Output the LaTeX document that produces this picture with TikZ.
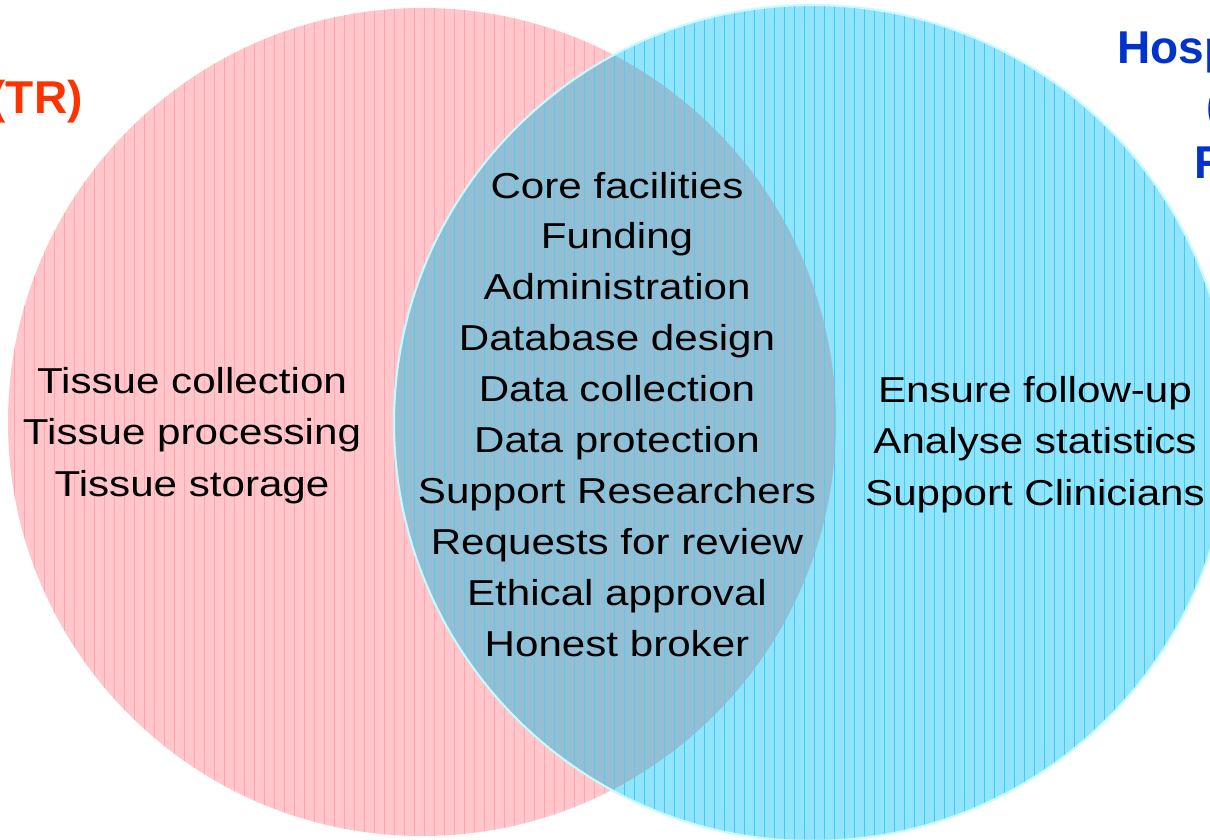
\documentclass[tikz,border=0pt]{standalone}
\usepackage{fontspec}
\setmainfont{Liberation Sans}
\usepackage{graphicx}
\usetikzlibrary{positioning}
\definecolor{trpink}{HTML}{FFC6CB}
\definecolor{trline}{HTML}{FFA6AF}
\definecolor{hrcyan}{HTML}{92E4FB}
\definecolor{hrline}{HTML}{3BCEF8}
\definecolor{mixblue}{HTML}{93BED3}
\definecolor{hredge}{HTML}{C8FAFF}
\definecolor{trtitle}{HTML}{FF3300}
\definecolor{hrtitle}{HTML}{0033CC}

\begin{document}
\begin{tikzpicture}[x=0.02cm, y=-0.02cm,
    item/.style={font=\fontsize{20.5}{24}\selectfont, inner sep=0pt, anchor=base},
    heading/.style={font=\fontsize{26.2}{30}\selectfont\bfseries, inner sep=0pt},
    hatch/.style={line width=0.45pt}]
  \useasboundingbox (0,0) rectangle (1210,839);
  \coordinate (tr) at (422,422);
  \coordinate (hr) at (812,423);
  % left circle
  \fill[trpink] (tr) circle (414);
  \begin{scope}
    \clip (tr) circle (414);
    \foreach \x in {4,14,...,1210} \draw[hatch, trline] (\x,0) -- (\x,839);
  \end{scope}
  % right circle
  \fill[hrcyan] (hr) circle (418);
  \begin{scope}
    \clip (hr) circle (418);
    \foreach \x in {4,14,...,1210} \draw[hatch, hrline] (\x,0) -- (\x,839);
    % overlap
    \clip (tr) circle (414);
    \fill[mixblue] (hr) circle (418);
    \foreach \x in {4,14,...,1210} \draw[hatch, hrline!60!mixblue] (\x,0) -- (\x,839);
  \end{scope}
  \draw[hredge, line width=1.2pt] (hr) circle (418);
  % texts
  \foreach \t [count=\i] in {Core facilities, Funding, Administration, Database design,
      Data collection, Data protection, Support Researchers, Requests for review,
      Ethical approval, Honest broker}
    \node[item] (mid\i) at (617,{147.1+50.9*\i}) {\scalebox{1.17}[1]{\t}};
  \foreach \t [count=\i] in {Tissue collection, Tissue processing, Tissue storage}
    \node[item] (tis\i) at (192,{341.5+51.5*\i}) {\scalebox{1.17}[1]{\t}};
  \foreach \t [count=\i] in {Ensure follow-up, Analyse statistics, Support Clinicians}
    \node[item] (cli\i) at (1035,{350.5+51.5*\i}) {\scalebox{1.17}[1]{\t}};
  % headings
  \node[heading, trtitle, anchor=base east] (trhead) at (83,113) {(TR)};
  \node[heading, hrtitle, anchor=base west] (hrhead1) at (1117,63) {Hosp};
  \node[heading, hrtitle, anchor=base west] (hrhead2) at (1206,121) {(};
  \node[heading, hrtitle, anchor=base west] (hrhead3) at (1194,178) {R};
\end{tikzpicture}
\end{document}
